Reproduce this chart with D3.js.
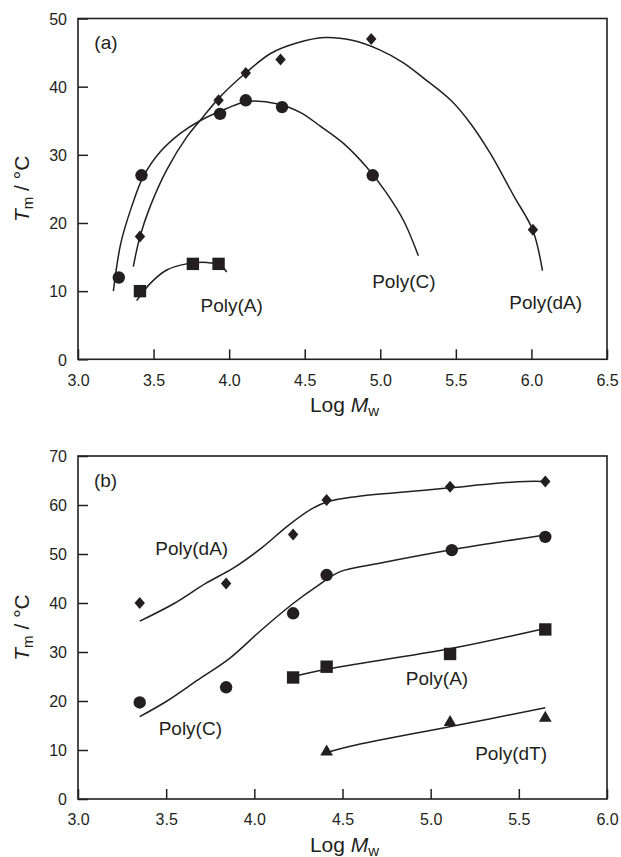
<!DOCTYPE html>
<html>
<head>
<meta charset="utf-8">
<script src="https://cdn.jsdelivr.net/npm/d3@7"></script>
<style>
  html, body { margin: 0; padding: 0; background: #fff; }
  svg { display: block; }
  text { font-family: "Liberation Sans", Arial, Helvetica, sans-serif; fill: #231f20; }
</style>
</head>
<body>
<svg id="chart" width="621" height="857"></svg>
<script>
// ---------- Panel (a) data ----------
const aTicksX = [3.0, 3.5, 4.0, 4.5, 5.0, 5.5, 6.0, 6.5];
const aTicksY = [0, 10, 20, 30, 40, 50];

const aPtsDA_x = [3.41, 3.93, 4.11, 4.34, 4.94, 6.01];
const aPtsDA_y = [18, 38, 42, 44, 47, 19];
const aPtsC_x  = [3.27, 3.42, 3.94, 4.11, 4.35, 4.95];
const aPtsC_y  = [12, 27, 36, 38, 37, 27];
const aPtsA_x  = [3.41, 3.76, 3.93];
const aPtsA_y  = [10, 14, 14];

const aFitDA_x = [3.366, 3.41, 3.477, 3.587, 3.719, 3.829, 3.94, 4.109, 4.277, 4.447, 4.63, 4.813, 4.996, 5.153, 5.284, 5.467, 5.597, 5.728, 5.885, 6.008, 6.073];
const aFitDA_y = [13.6, 18.0, 22.4, 27.8, 32.6, 35.6, 38.5, 42.0, 44.9, 46.4, 47.2, 46.8, 45.4, 43.5, 41.3, 38.0, 34.6, 30.2, 23.9, 19.0, 13.0];
const aFitC_x  = [3.234, 3.283, 3.355, 3.432, 3.543, 3.675, 3.807, 3.984, 4.114, 4.316, 4.473, 4.603, 4.760, 4.917, 5.035, 5.153, 5.252];
const aFitC_y  = [10.0, 17.0, 22.4, 26.8, 30.4, 33.1, 35.0, 36.8, 37.8, 37.5, 36.2, 34.2, 31.6, 28.0, 24.6, 20.4, 15.2];
const aFitA_x  = [3.388, 3.477, 3.587, 3.719, 3.852, 3.94, 3.984];
const aFitA_y  = [8.6, 11.1, 13.1, 14.0, 14.2, 13.8, 12.8];

const aLabels = ["Poly(A)", "Poly(C)", "Poly(dA)"];
const aLabelX = [4.017, 5.156, 6.094];
const aLabelY = [7.0, 10.5, 7.45];

// ---------- Panel (b) data ----------
const bTicksX = [3.0, 3.5, 4.0, 4.5, 5.0, 5.5, 6.0];
const bTicksY = [0, 10, 20, 30, 40, 50, 60, 70];

const bPtsDA_x = [3.35, 3.84, 4.22, 4.41, 5.11, 5.65];
const bPtsDA_y = [40, 44, 54, 61, 63.7, 64.8];
const bPtsC_x  = [3.35, 3.84, 4.22, 4.41, 5.12, 5.65];
const bPtsC_y  = [19.7, 22.8, 37.9, 45.7, 50.8, 53.5];
const bPtsA_x  = [4.22, 4.41, 5.11, 5.65];
const bPtsA_y  = [24.8, 27.0, 29.6, 34.6];
const bPtsDT_x = [4.41, 5.11, 5.65];
const bPtsDT_y = [9.9, 15.9, 16.8];

const bFitDA_x = [3.35, 3.545, 3.724, 3.88, 4.04, 4.195, 4.33, 4.42, 4.576, 4.80, 5.11, 5.36, 5.54, 5.646];
const bFitDA_y = [36.3, 39.9, 44.0, 47.1, 51.2, 55.9, 59.3, 60.7, 61.7, 62.5, 63.5, 64.4, 64.8, 64.8];
const bFitC_x  = [3.35, 3.5, 3.68, 3.86, 4.04, 4.22, 4.35, 4.487, 4.71, 5.11, 5.648];
const bFitC_y  = [16.8, 19.9, 24.3, 28.7, 34.5, 39.9, 43.3, 46.4, 48.1, 50.8, 53.9];
const bFitA_x  = [4.217, 4.41, 5.114, 5.648];
const bFitA_y  = [25.0, 26.5, 30.7, 34.8];
const bFitDT_x = [4.41, 4.576, 5.114, 5.65];
const bFitDT_y = [9.5, 11.0, 14.8, 18.6];

const bLabels = ["Poly(dA)", "Poly(C)", "Poly(A)", "Poly(dT)"];
const bLabelX = [3.645, 3.637, 5.036, 5.456];
const bLabelY = [49.8, 13.1, 23.3, 8.0];

// ---------- drawing ----------
const INK = "#231f20";
const svg = d3.select("#chart");

const diamond = {
  draw(ctx) { const w = 5.2, h = 6;
    ctx.moveTo(0, -h); ctx.lineTo(w, 0); ctx.lineTo(0, h); ctx.lineTo(-w, 0); ctx.closePath(); }
};
const square = {
  draw(ctx) { const s = 6.2; ctx.rect(-s, -s, 2 * s, 2 * s); }
};
const circle = {
  draw(ctx) { const r = 6.2; ctx.moveTo(r, 0); ctx.arc(0, 0, r, 0, 2 * Math.PI); }
};
const triangle = {
  draw(ctx) { const w = 6.4, h = 11;
    ctx.moveTo(0, -h * 0.55); ctx.lineTo(w, h * 0.45); ctx.lineTo(-w, h * 0.45); ctx.closePath(); }
};

function panel(cfg) {
  const { x, y, ticksX, ticksY, tag, tagPos, series, labels } = cfg;
  const g = svg.append("g");
  const [x0, x1] = x.range();
  const [y0, y1] = y.range();

  // x axis ticks (inward)
  const ax = d3.axisBottom(x).tickValues(ticksX).tickFormat(d3.format(".1f"))
    .tickSizeInner(-10).tickSizeOuter(0).tickPadding(15);
  const gx = g.append("g").attr("transform", `translate(0,${y0})`).call(ax);
  const ay = d3.axisLeft(y).tickValues(ticksY).tickFormat(d3.format("d"))
    .tickSizeInner(-10).tickSizeOuter(0).tickPadding(11);
  const gy = g.append("g").attr("transform", `translate(${x0},0)`).call(ay);
  [gx, gy].forEach(a => {
    a.select(".domain").remove();
    a.selectAll(".tick line").attr("stroke", INK).attr("stroke-width", 1.5);
    a.selectAll(".tick text").attr("font-size", 16).attr("fill", INK)
      .style("font-family", '"Liberation Sans", Arial, sans-serif');
  });
  gy.selectAll(".tick text").attr("dy", "0.36em");

  // frame
  g.append("rect").attr("x", x0).attr("y", y1).attr("width", x1 - x0).attr("height", y0 - y1)
    .attr("fill", "none").attr("stroke", INK).attr("stroke-width", 1.6);

  // fitted curves
  const line = d3.line().x(d => x(d[0])).y(d => y(d[1])).curve(d3.curveCatmullRom.alpha(0.5));
  series.forEach(s => {
    g.append("path").datum(d3.zip(s.fx, s.fy)).attr("d", line)
      .attr("fill", "none").attr("stroke", INK).attr("stroke-width", 1.5);
  });
  // points
  series.forEach(s => {
    g.selectAll(null).data(d3.zip(s.px, s.py)).join("path")
      .attr("d", d3.symbol().type(s.sym))
      .attr("transform", d => `translate(${x(d[0])},${y(d[1])})`)
      .attr("fill", INK);
  });

  // labels
  g.selectAll(null).data(d3.zip(labels.t, labels.x, labels.y)).join("text")
    .attr("x", d => x(d[1])).attr("y", d => y(d[2]))
    .attr("text-anchor", "middle").attr("font-size", 19).text(d => d[0]);

  g.append("text").attr("x", x(tagPos[0])).attr("y", y(tagPos[1]))
    .attr("text-anchor", "middle").attr("font-size", 19).text(tag);

  // axis titles
  const xt = g.append("text").attr("x", (x0 + x1) / 2 + 2).attr("y", y0 + 52.5)
    .attr("text-anchor", "middle").attr("font-size", 21);
  xt.append("tspan").text("Log ");
  xt.append("tspan").attr("font-style", "italic").text("M");
  xt.append("tspan").attr("font-size", 15).attr("dy", 4).text("w");

  const yt = g.append("text")
    .attr("transform", `translate(28.5,${(y0 + y1) / 2}) rotate(-90)`)
    .attr("text-anchor", "middle").attr("font-size", 21);
  yt.append("tspan").attr("font-style", "italic").text("T");
  yt.append("tspan").attr("font-size", 15).attr("dy", 4).text("m");
  yt.append("tspan").attr("dy", -4).text(" / \u00B0C");
}

panel({
  x: d3.scaleLinear().domain([3, 6.5]).range([78, 607]),
  y: d3.scaleLinear().domain([0, 50]).range([359.3, 18.5]),
  ticksX: aTicksX, ticksY: aTicksY,
  tag: "(a)", tagPos: [3.185, 45.5],
  series: [
    { px: aPtsDA_x, py: aPtsDA_y, fx: aFitDA_x, fy: aFitDA_y, sym: diamond },
    { px: aPtsC_x,  py: aPtsC_y,  fx: aFitC_x,  fy: aFitC_y,  sym: circle },
    { px: aPtsA_x,  py: aPtsA_y,  fx: aFitA_x,  fy: aFitA_y,  sym: square }
  ],
  labels: { t: aLabels, x: aLabelX, y: aLabelY }
});

panel({
  x: d3.scaleLinear().domain([3, 6]).range([78, 607]),
  y: d3.scaleLinear().domain([0, 70]).range([799, 456]),
  ticksX: bTicksX, ticksY: bTicksY,
  tag: "(b)", tagPos: [3.156, 63.7],
  series: [
    { px: bPtsDA_x, py: bPtsDA_y, fx: bFitDA_x, fy: bFitDA_y, sym: diamond },
    { px: bPtsC_x,  py: bPtsC_y,  fx: bFitC_x,  fy: bFitC_y,  sym: circle },
    { px: bPtsA_x,  py: bPtsA_y,  fx: bFitA_x,  fy: bFitA_y,  sym: square },
    { px: bPtsDT_x, py: bPtsDT_y, fx: bFitDT_x, fy: bFitDT_y, sym: triangle }
  ],
  labels: { t: bLabels, x: bLabelX, y: bLabelY }
});
</script>
</body>
</html>
